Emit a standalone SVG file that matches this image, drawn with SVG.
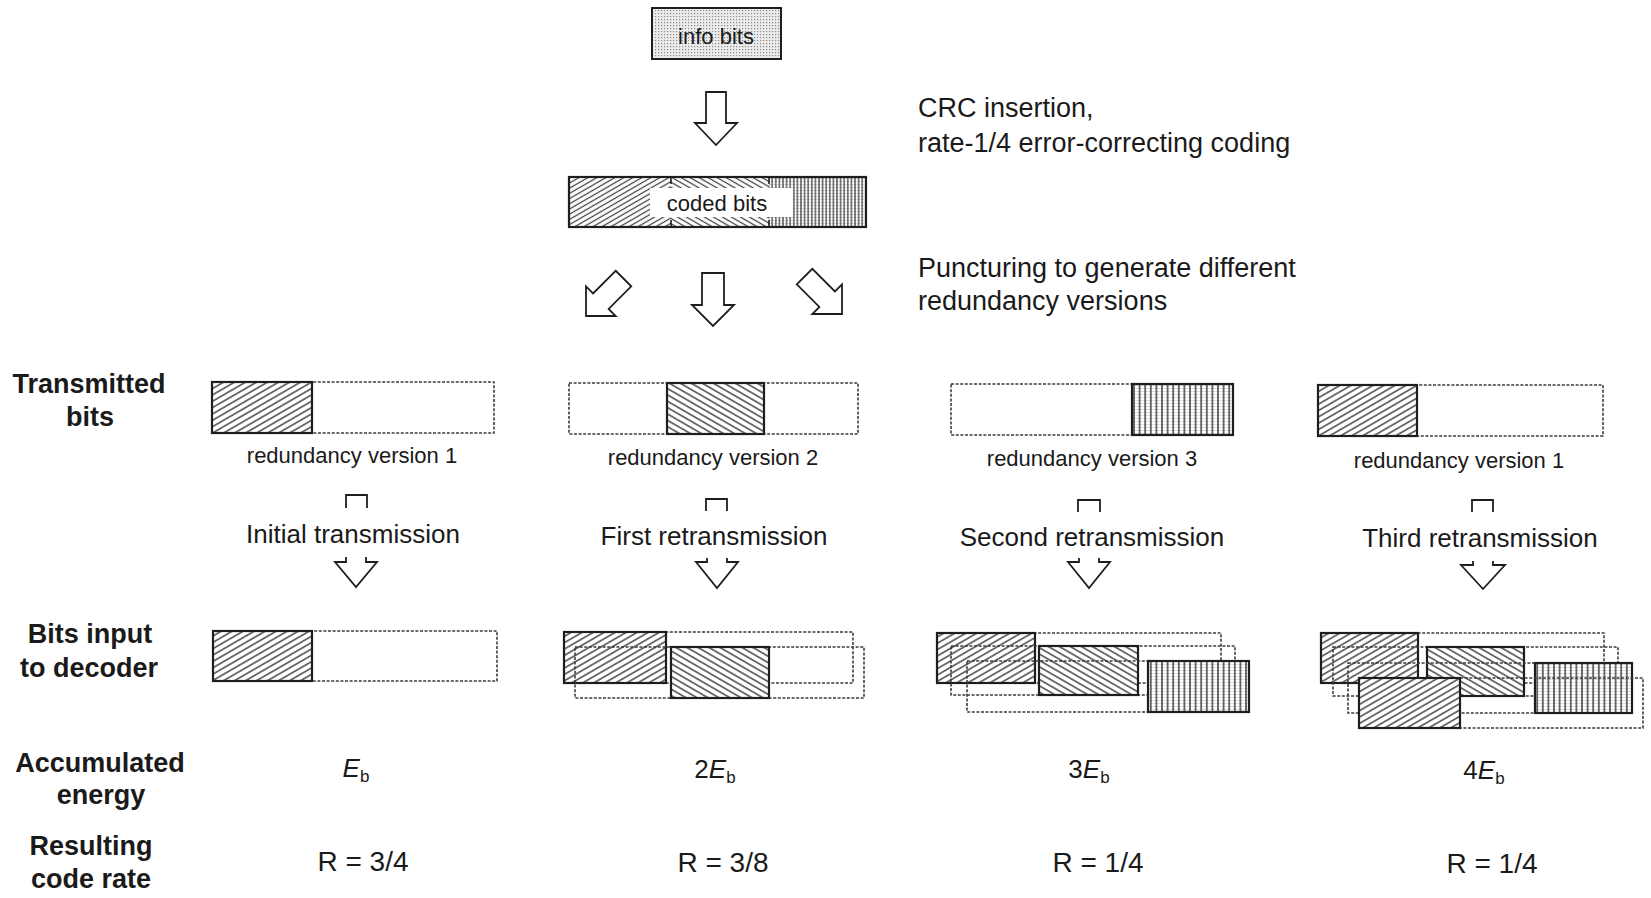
<svg xmlns="http://www.w3.org/2000/svg" width="1651" height="898" viewBox="0 0 1651 898">
<defs>
<pattern id="dots" width="3" height="3" patternUnits="userSpaceOnUse"><rect width="3" height="3" fill="#ececec"/><rect x="1" y="1" width="1.2" height="1.2" fill="#8a8a8a"/></pattern>
<pattern id="fwd" width="12" height="5.5" patternUnits="userSpaceOnUse" patternTransform="rotate(-30)"><rect width="12" height="5.5" fill="#fff"/><line x1="0" y1="2.75" x2="12" y2="2.75" stroke="#3a3a3a" stroke-width="1.4"/></pattern>
<pattern id="bwd" width="12" height="5.5" patternUnits="userSpaceOnUse" patternTransform="rotate(30)"><rect width="12" height="5.5" fill="#fff"/><line x1="0" y1="2.75" x2="12" y2="2.75" stroke="#3a3a3a" stroke-width="1.4"/></pattern>
<pattern id="vert" width="5.6" height="3" patternUnits="userSpaceOnUse"><rect width="5.6" height="3" fill="#fff"/><line x1="0" y1="1.5" x2="5.6" y2="1.5" stroke="#c8c8c8" stroke-width="0.6"/><line x1="2.8" y1="0" x2="2.8" y2="3" stroke="#333" stroke-width="1.4"/></pattern>
<pattern id="fwdD" width="12" height="4.5" patternUnits="userSpaceOnUse" patternTransform="rotate(-30)"><rect width="12" height="4.5" fill="#fff"/><line x1="0" y1="2.25" x2="12" y2="2.25" stroke="#3a3a3a" stroke-width="1.2"/></pattern>
<pattern id="bwdD" width="12" height="4.5" patternUnits="userSpaceOnUse" patternTransform="rotate(30)"><rect width="12" height="4.5" fill="#fff"/><line x1="0" y1="2.25" x2="12" y2="2.25" stroke="#3a3a3a" stroke-width="1.2"/></pattern>
<pattern id="vertD" width="3.6" height="3" patternUnits="userSpaceOnUse"><rect width="3.6" height="3" fill="#fff"/><line x1="0" y1="1.5" x2="3.6" y2="1.5" stroke="#c8c8c8" stroke-width="0.6"/><line x1="1.8" y1="0" x2="1.8" y2="3" stroke="#333" stroke-width="1.2"/></pattern>
<path id="darr" d="M-11,-53 H11 V-21 H21 L0,0 L-21,-21 H-11 Z"/>
</defs>
<style>
text{font-family:"Liberation Sans",Arial,sans-serif;fill:#1a1a1a}
.lbl{font-size:27px;font-weight:bold;text-anchor:middle}
.rv{font-size:22px;text-anchor:middle}
.tx{font-size:26px;text-anchor:middle}
.note{font-size:27px}
.val{font-size:28px;text-anchor:middle}
.en{font-size:26px;text-anchor:middle}
.dash{fill:none;stroke:#3c3c3c;stroke-width:1.6;stroke-dasharray:3 1.6}
.solid{stroke:#1e1e1e;stroke-width:2.2}
.arr{fill:#fff;stroke:#1e1e1e;stroke-width:1.8;stroke-linejoin:miter}
.open{fill:none;stroke:#1e1e1e;stroke-width:1.8}
</style>
<rect width="1651" height="898" fill="#fff"/>

<g id="info-bits">
<rect x="652" y="8" width="129" height="51" fill="url(#dots)" stroke="#1e1e1e" stroke-width="2"/>
<text x="716" y="44" style="font-size:22px;text-anchor:middle">info bits</text>
</g>

<g id="coded-bits">
<rect x="569" y="177" width="102" height="50" fill="url(#fwdD)"/>
<rect x="671" y="177" width="98" height="50" fill="url(#bwdD)"/>
<rect x="769" y="177" width="97" height="50" fill="url(#vertD)"/>
<rect x="650" y="188" width="143" height="29" fill="#fff"/>
<rect x="569" y="177" width="297" height="50" fill="none" stroke="#1e1e1e" stroke-width="2.2"/>
<path d="M671,177 V184 M671,220 V227 M769,177 V184 M769,220 V227" stroke="#1e1e1e" stroke-width="1.6"/>
<text x="717" y="211" style="font-size:22px;text-anchor:middle">coded bits</text>
</g>

<g id="note-crc">
<text class="note" x="918" y="117">CRC insertion,</text>
<text class="note" x="918" y="152">rate-1/4 error-correcting coding</text>
</g>
<g id="note-puncturing">
<text class="note" x="918" y="277">Puncturing to generate different</text>
<text class="note" x="918" y="310">redundancy versions</text>
</g>

<g id="row-labels">
<text class="lbl" x="89" y="393">Transmitted</text>
<text class="lbl" x="90" y="426">bits</text>
<text class="lbl" x="90" y="643">Bits input</text>
<text class="lbl" x="89" y="677">to decoder</text>
<text class="lbl" x="100" y="772">Accumulated</text>
<text class="lbl" x="101" y="804">energy</text>
<text class="lbl" x="91" y="855">Resulting</text>
<text class="lbl" x="91" y="888">code rate</text>
</g>

<g id="tx1">
<rect class="dash" x="212" y="382" width="282" height="51"/>
<rect class="solid" x="212" y="382" width="100" height="51" fill="url(#fwd)"/>
<text class="rv" x="352" y="463">redundancy version 1</text>
</g>
<g id="tx2">
<rect class="dash" x="569" y="383" width="289" height="51"/>
<rect class="solid" x="667" y="383" width="97" height="51" fill="url(#bwd)"/>
<text class="rv" x="713" y="465">redundancy version 2</text>
</g>
<g id="tx3">
<rect class="dash" x="951" y="384" width="282" height="51"/>
<rect class="solid" x="1132" y="384" width="101" height="51" fill="url(#vert)"/>
<text class="rv" x="1092" y="466">redundancy version 3</text>
</g>
<g id="tx4">
<rect class="dash" x="1318" y="385" width="285" height="51"/>
<rect class="solid" x="1318" y="385" width="99" height="51" fill="url(#fwd)"/>
<text class="rv" x="1459" y="468">redundancy version 1</text>
</g>

<g id="step1"><text class="tx" x="353" y="543">Initial transmission</text></g>
<g id="step2"><text class="tx" x="714" y="545">First retransmission</text></g>
<g id="step3"><text class="tx" x="1092" y="546">Second retransmission</text></g>
<g id="step4"><text class="tx" x="1480" y="547">Third retransmission</text></g>

<g id="dec1">
<rect class="dash" x="213" y="631" width="284" height="50"/>
<rect class="solid" x="213" y="631" width="99" height="50" fill="url(#fwd)"/>
</g>
<g id="dec2">
<rect class="dash" x="564" y="632" width="289" height="51"/>
<rect class="solid" x="564" y="632" width="102" height="51" fill="url(#fwd)"/>
<rect class="dash" x="575" y="647" width="289" height="51"/>
<rect class="solid" x="671" y="647" width="98" height="51" fill="url(#bwd)"/>
</g>
<g id="dec3">
<rect class="dash" x="937" y="633" width="284" height="50"/>
<rect class="solid" x="937" y="633" width="98" height="50" fill="url(#fwd)"/>
<rect class="dash" x="951" y="646" width="284" height="49"/>
<rect class="solid" x="1039" y="646" width="99" height="49" fill="url(#bwd)"/>
<rect class="dash" x="967" y="661" width="282" height="51"/>
<rect class="solid" x="1148" y="661" width="101" height="51" fill="url(#vert)"/>
</g>
<g id="dec4">
<rect class="dash" x="1321" y="633" width="283" height="50"/>
<rect class="solid" x="1321" y="633" width="97" height="50" fill="url(#fwd)"/>
<rect class="dash" x="1333" y="647" width="285" height="49"/>
<rect class="solid" x="1427" y="647" width="97" height="49" fill="url(#bwd)"/>
<rect class="dash" x="1348" y="663" width="284" height="50"/>
<rect class="solid" x="1535" y="663" width="97" height="50" fill="url(#vert)"/>
<rect class="dash" x="1359" y="678" width="284" height="50"/>
<rect class="solid" x="1359" y="678" width="101" height="50" fill="url(#fwd)"/>
</g>

<g id="energy">
<text class="en" x="356" y="777"><tspan font-style="italic">E</tspan><tspan font-size="17" dy="5">b</tspan></text>
<text class="en" x="715" y="778">2<tspan font-style="italic">E</tspan><tspan font-size="17" dy="5">b</tspan></text>
<text class="en" x="1089" y="778">3<tspan font-style="italic">E</tspan><tspan font-size="17" dy="5">b</tspan></text>
<text class="en" x="1484" y="779">4<tspan font-style="italic">E</tspan><tspan font-size="17" dy="5">b</tspan></text>
</g>
<g id="rates">
<text class="val" x="363" y="871">R = 3/4</text>
<text class="val" x="723" y="872">R = 3/8</text>
<text class="val" x="1098" y="872">R = 1/4</text>
<text class="val" x="1492" y="873">R = 1/4</text>
</g>

<g id="connectors">
<path class="arr" d="M706,92 H726 V123 H737 L716,145 L695,123 H706 Z"/>
<use href="#darr" class="arr" transform="translate(713,326)"/>
<use href="#darr" class="arr" transform="translate(586,316) rotate(45)"/>
<use href="#darr" class="arr" transform="translate(842,314) rotate(-45)"/>
<path class="open" d="M346,508 V495 H367 V508"/>
<path class="open" d="M346,557 V562 H335 L356,587 L377,562 H366 V557"/>
<path class="open" d="M706,511 V499 H727 V511"/>
<path class="open" d="M707,558 V562 H696 L717,588 L738,562 H727 V558"/>
<path class="open" d="M1078,512 V500 H1100 V512"/>
<path class="open" d="M1079,558 V562 H1068 L1089,588 L1110,562 H1099 V558"/>
<path class="open" d="M1472,512 V500 H1493 V512"/>
<path class="open" d="M1473,561 V565 H1461 L1483,589 L1505,565 H1493 V561"/>
</g>
</svg>
